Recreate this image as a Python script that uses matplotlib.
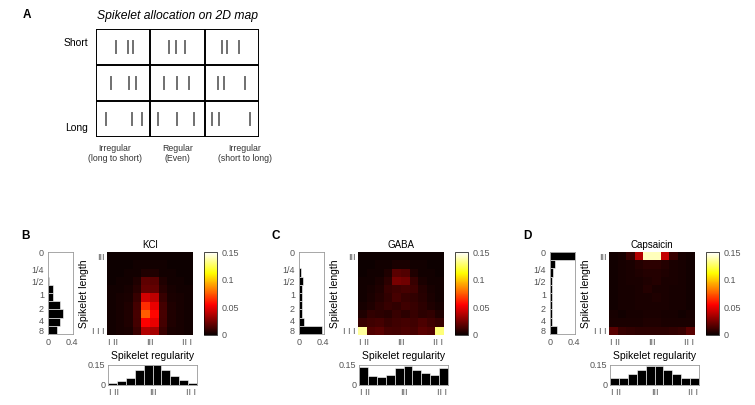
import numpy as np
import matplotlib
matplotlib.use("Agg")
import matplotlib.pyplot as plt

plt.rcParams['font.family'] = ['Liberation Sans', 'DejaVu Sans']

# ---- panel A: spikelet positions inside each cell (fraction of cell width)
tick_pos = [
    [[0.37, 0.59, 0.68], [0.34, 0.48, 0.63], [0.32, 0.42, 0.64]],   # short
    [[0.28, 0.60, 0.74], [0.26, 0.49, 0.72], [0.24, 0.36, 0.74]],
    [[0.19, 0.66, 0.85], [0.15, 0.49, 0.80], [0.13, 0.27, 0.84]],   # long
]
col_labels = ['Irregular\n(long to short)', 'Regular\n(Even)', 'Irregular\n(short to long)']

# ---- panels B-D
conditions = ['KCl', 'GABA', 'Capsaicin']
panel_letters = ['B', 'C', 'D']

kcl_map = [
    [0.001, 0.001, 0.001, 0.001, 0.001, 0.001, 0.001, 0.001, 0.001, 0.001],
    [0.001, 0.001, 0.001, 0.002, 0.002, 0.002, 0.002, 0.001, 0.001, 0.001],
    [0.001, 0.001, 0.002, 0.002, 0.005, 0.005, 0.002, 0.002, 0.001, 0.001],
    [0.001, 0.002, 0.002, 0.005, 0.019, 0.018, 0.005, 0.002, 0.002, 0.001],
    [0.002, 0.002, 0.003, 0.007, 0.021, 0.020, 0.007, 0.003, 0.002, 0.002],
    [0.002, 0.003, 0.004, 0.010, 0.045, 0.040, 0.010, 0.004, 0.003, 0.002],
    [0.002, 0.003, 0.005, 0.013, 0.065, 0.050, 0.013, 0.005, 0.003, 0.002],
    [0.002, 0.003, 0.005, 0.014, 0.075, 0.056, 0.014, 0.005, 0.003, 0.002],
    [0.002, 0.003, 0.005, 0.013, 0.055, 0.050, 0.013, 0.005, 0.003, 0.002],
    [0.002, 0.003, 0.004, 0.011, 0.038, 0.035, 0.011, 0.004, 0.003, 0.002],
]
gaba_map = [
    [0.001, 0.001, 0.001, 0.001, 0.001, 0.001, 0.001, 0.001, 0.001, 0.001],
    [0.001, 0.001, 0.002, 0.002, 0.004, 0.004, 0.002, 0.002, 0.001, 0.001],
    [0.001, 0.002, 0.002, 0.005, 0.018, 0.016, 0.005, 0.002, 0.002, 0.001],
    [0.002, 0.002, 0.004, 0.008, 0.025, 0.023, 0.010, 0.004, 0.002, 0.002],
    [0.002, 0.003, 0.005, 0.010, 0.012, 0.014, 0.012, 0.006, 0.003, 0.002],
    [0.002, 0.004, 0.006, 0.009, 0.014, 0.010, 0.009, 0.007, 0.004, 0.002],
    [0.003, 0.005, 0.008, 0.010, 0.009, 0.012, 0.010, 0.008, 0.005, 0.003],
    [0.005, 0.009, 0.008, 0.007, 0.010, 0.008, 0.010, 0.008, 0.009, 0.005],
    [0.010, 0.012, 0.013, 0.010, 0.012, 0.013, 0.012, 0.015, 0.012, 0.010],
    [0.135, 0.016, 0.018, 0.014, 0.013, 0.015, 0.014, 0.018, 0.016, 0.130],
]
caps_map = [
    [0.002, 0.003, 0.010, 0.038, 0.140, 0.140, 0.042, 0.010, 0.003, 0.002],
    [0.002, 0.003, 0.004, 0.006, 0.008, 0.008, 0.006, 0.004, 0.003, 0.002],
    [0.002, 0.003, 0.004, 0.005, 0.006, 0.006, 0.005, 0.004, 0.003, 0.002],
    [0.002, 0.003, 0.004, 0.004, 0.005, 0.006, 0.004, 0.004, 0.003, 0.002],
    [0.002, 0.003, 0.003, 0.004, 0.006, 0.004, 0.004, 0.003, 0.003, 0.002],
    [0.002, 0.003, 0.003, 0.004, 0.004, 0.005, 0.004, 0.003, 0.003, 0.002],
    [0.002, 0.003, 0.003, 0.004, 0.004, 0.004, 0.004, 0.003, 0.003, 0.002],
    [0.003, 0.002, 0.003, 0.003, 0.004, 0.004, 0.003, 0.003, 0.002, 0.003],
    [0.004, 0.004, 0.004, 0.004, 0.005, 0.005, 0.004, 0.004, 0.004, 0.004],
    [0.018, 0.010, 0.009, 0.008, 0.008, 0.008, 0.008, 0.009, 0.010, 0.018],
]
heat_maps = [kcl_map, gaba_map, caps_map]

# marginal of spikelet length (top -> bottom)
length_hist = [
    [0.0, 0.0, 0.005, 0.02, 0.08, 0.08, 0.20, 0.25, 0.20, 0.15],
    [0.0, 0.005, 0.04, 0.06, 0.05, 0.05, 0.05, 0.05, 0.09, 0.38],
    [0.42, 0.08, 0.05, 0.04, 0.03, 0.03, 0.03, 0.03, 0.03, 0.12],
]
length_ticks = [0, 2.1, 3.6, 5.2, 6.9, 8.3, 9.6]
length_labels = ['0', '1/4', '1/2', '1', '2', '4', '8']

# marginal of spikelet regularity (left -> right)
reg_hist = [
    [0.012, 0.028, 0.055, 0.11, 0.15, 0.15, 0.11, 0.065, 0.035, 0.018],
    [0.135, 0.065, 0.06, 0.075, 0.13, 0.14, 0.115, 0.09, 0.075, 0.125],
    [0.05, 0.05, 0.08, 0.11, 0.145, 0.145, 0.11, 0.08, 0.05, 0.05],
]
reg_labels = ['I II', 'III', 'II I']

W, H = 755, 405
fig = plt.figure(figsize=(W / 100, H / 100), dpi=100)


def px_axes(x0, y0, x1, y1):
    return fig.add_axes([x0 / W, 1 - y1 / H, (x1 - x0) / W, (y1 - y0) / H])


grey = '#555555'
small = 6.5

# ---------------- panel A
fig.text(23 / W, 1 - 15 / H, 'A', fontsize=8.5, fontweight='bold', va='center')
axA = px_axes(96, 29, 259, 137)
axA.set_xlim(0, 3)
axA.set_ylim(3, 0)
axA.axis('off')
for k in range(4):
    axA.plot([k, k], [0, 3], color='black', lw=1.4, solid_capstyle='projecting')
    axA.plot([0, 3], [k, k], color='black', lw=1.4, solid_capstyle='projecting')
for r, row in enumerate(tick_pos):
    for c, cell in enumerate(row):
        for p in cell:
            axA.plot([c + p, c + p], [r + 0.32, r + 0.68], color='#707070', lw=1.4)
axA.set_title('Spikelet allocation on 2D map', fontsize=8.7, style='italic', pad=7)
axA.text(-0.15, 0.38, 'Short', fontsize=7.5, ha='right', va='center')
axA.text(-0.15, 2.74, 'Long', fontsize=7.5, ha='right', va='center')
label_shift = [-0.15, 0.0, 0.24]
for c, lab in enumerate(col_labels):
    axA.text(c + 0.5 + label_shift[c], 3.2, lab, fontsize=6.3, ha='center', va='top',
             color='#333333', linespacing=1.15)

# ---------------- panels B-D
offsets = [0, 251, 502]
for i in range(3):
    dx = offsets[i]
    fig.text((21 + dx) / W, 1 - 236 / H, panel_letters[i], fontsize=8.5,
             fontweight='bold', va='center')

    # length histogram
    axh = px_axes(48 + dx, 252, 73 + dx, 334)
    axh.barh(np.arange(10) + 0.5, length_hist[i], height=1.0, color='black',
             edgecolor='white', linewidth=0.4)
    axh.set_ylim(10, 0)
    axh.set_xlim(0, 0.42)
    axh.set_yticks(length_ticks)
    axh.set_yticklabels(length_labels)
    axh.set_xticks([0, 0.4])
    axh.set_xticklabels(['0', '0.4'])
    axh.tick_params(length=0, labelsize=small, labelcolor=grey, pad=3)
    for s in axh.spines.values():
        s.set_color('#999999')
        s.set_linewidth(0.6)

    # heat map
    axm = px_axes(107 + dx, 252, 193 + dx, 335)
    im = axm.imshow(np.array(heat_maps[i]), cmap='hot', vmin=0, vmax=0.15,
                    aspect='auto', interpolation='nearest')
    axm.set_title(conditions[i], fontsize=7, pad=3)
    axm.set_ylabel('Spikelet length', fontsize=7.5, labelpad=2)
    axm.set_yticks([0, 9])
    axm.set_yticklabels(['III', 'I I I'])
    axm.set_xticks([0.2, 4.5, 8.8])
    axm.set_xticklabels(reg_labels)
    axm.tick_params(length=0, labelsize=small, labelcolor=grey, pad=2)
    for s in axm.spines.values():
        s.set_visible(False)

    # colour bar
    axc = px_axes(204 + dx, 252, 217 + dx, 335)
    cb = fig.colorbar(im, cax=axc)
    cb.set_ticks([0, 0.05, 0.1, 0.15])
    cb.set_ticklabels(['0', '0.05', '0.1', '0.15'])
    cb.ax.tick_params(length=0, labelsize=small, labelcolor=grey, pad=3)
    cb.outline.set_linewidth(0.5)

    # regularity histogram
    axr = px_axes(108 + dx, 365, 197 + dx, 385)
    axr.bar(np.arange(10) + 0.5, reg_hist[i], width=1.0, color='black',
            edgecolor='white', linewidth=0.4)
    axr.set_xlim(0, 10)
    axr.set_ylim(0, 0.15)
    axr.set_yticks([0, 0.15])
    axr.set_yticklabels(['0', '0.15'])
    axr.set_xticks([0.7, 5, 9.3])
    axr.set_xticklabels(reg_labels)
    axr.tick_params(length=0, labelsize=small, labelcolor=grey, pad=2)
    axr.set_title('Spikelet regularity', fontsize=7.5, pad=4)
    for s in axr.spines.values():
        s.set_color('#999999')
        s.set_linewidth(0.6)

fig.savefig('out.png', dpi=100)
